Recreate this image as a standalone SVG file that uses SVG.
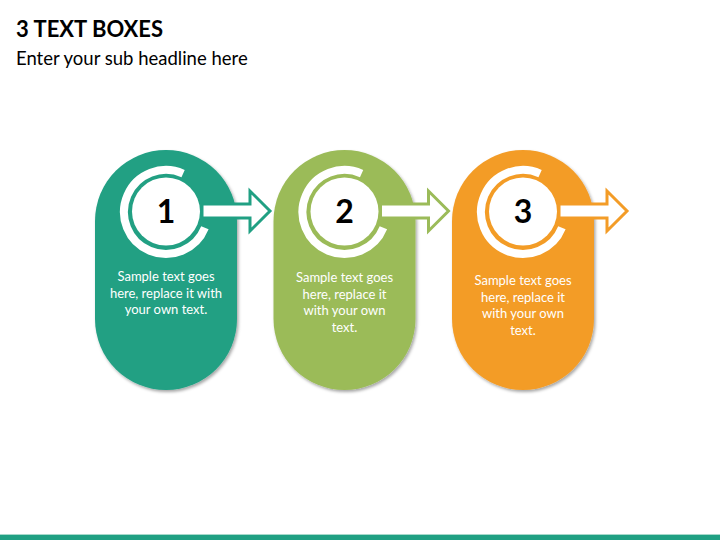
<svg xmlns="http://www.w3.org/2000/svg" width="720" height="540" viewBox="0 0 720 540">
<defs>
<filter id="sh" x="-20%" y="-20%" width="140%" height="140%">
<feDropShadow dx="1.5" dy="2" stdDeviation="1.8" flood-color="#000" flood-opacity="0.35"/>
</filter>
</defs>
<style>
.title{font-family:Lato,"Open Sans","Liberation Sans",sans-serif;font-weight:700;font-size:22px;fill:#000}
.sub{font-family:Lato,"Open Sans","Liberation Sans",sans-serif;font-size:18.5px;fill:#000}
.num{font-family:Lato,"Open Sans","Liberation Sans",sans-serif;font-weight:700;font-size:32px;fill:#000;text-anchor:middle}
.body{font-family:Lato,"Open Sans","Liberation Sans",sans-serif;font-size:13px;fill:#fff;text-anchor:middle}
.arc{fill:none;stroke:#fff;stroke-width:8}
.inner{fill:#fff}
.arrow{fill:#fff;stroke-width:3;stroke-linejoin:miter}
.teal{fill:#20a083}
.green{fill:#9bbb59}
.orange{fill:#f39c27}
</style>
<rect width="720" height="540" fill="#fff"/>
<text class="title" x="16" y="37">3 TEXT BOXES</text>
<text class="sub" x="16" y="65">Enter your sub headline here</text>

<g id="node1">
<rect class="teal" x="95" y="150" width="142" height="240" rx="71" ry="71" filter="url(#sh)"/>
</g>
<g id="node2">
<rect class="green" x="273.5" y="150" width="142" height="240" rx="71" ry="71" filter="url(#sh)"/>
</g>
<g id="node3">
<rect class="orange" x="452" y="150" width="142" height="240" rx="71" ry="71" filter="url(#sh)"/>
</g>

<g id="connectors">
<path class="arrow" stroke="#20a083" d="M202 204 H250 V191 L270 211 L250 231 V218 H202 Z"/>
<path class="arrow" stroke="#9bbb59" d="M380.5 204 H428.5 V191 L448.5 211 L428.5 231 V218 H380.5 Z"/>
<path class="arrow" stroke="#f39c27" d="M559 204 H607 V191 L627 211 L607 231 V218 H559 Z"/>
</g>

<g id="node1-content">
<path class="arc" d="M204.9 227.7 A42 42 0 1 1 183.1 173.6"/>
<circle class="inner" cx="166" cy="211.5" r="34"/>
<text class="num" x="166" y="222.5">1</text>
<text class="body" x="166" y="281">Sample text goes</text>
<text class="body" x="166" y="297.5">here, replace it with</text>
<text class="body" x="166" y="314">your own text.</text>
</g>
<g id="node2-content">
<path class="arc" d="M383.4 227.7 A42 42 0 1 1 361.6 173.6"/>
<circle class="inner" cx="344.5" cy="211.5" r="34"/>
<text class="num" x="344.5" y="222.5">2</text>
<text class="body" x="344.5" y="282">Sample text goes</text>
<text class="body" x="344.5" y="298.5">here, replace it</text>
<text class="body" x="344.5" y="315">with your own</text>
<text class="body" x="344.5" y="331.5">text.</text>
</g>
<g id="node3-content">
<path class="arc" d="M561.9 227.7 A42 42 0 1 1 540.1 173.6"/>
<circle class="inner" cx="523" cy="211.5" r="34"/>
<text class="num" x="523" y="222.5">3</text>
<text class="body" x="523" y="285">Sample text goes</text>
<text class="body" x="523" y="301.5">here, replace it</text>
<text class="body" x="523" y="318">with your own</text>
<text class="body" x="523" y="334.5">text.</text>
</g>

<rect x="0" y="534" width="720" height="1" fill="#a6d9cb"/>
<rect x="0" y="535" width="720" height="5" fill="#20a083"/>
</svg>
